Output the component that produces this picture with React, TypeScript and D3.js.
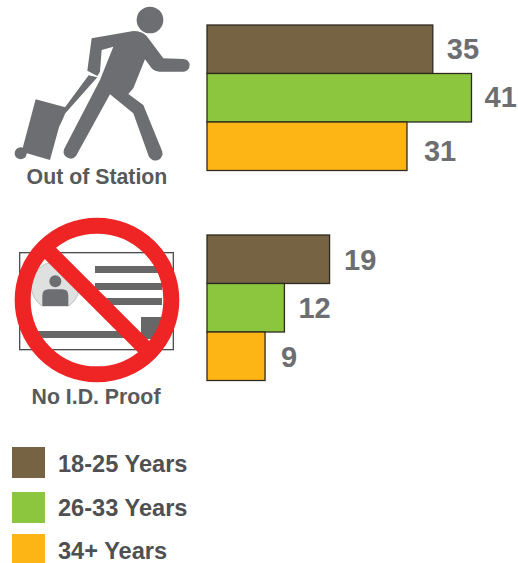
import React from "react";
import * as d3 from "d3";

const ageGroups = ["18-25 Years", "26-33 Years", "34+ Years"];
const colors = ["#756343", "#8cc63f", "#fdb515"];
const outOfStation = [35, 41, 31];
const noIdProof = [19, 12, 9];
const groupLabels = ["Out of Station", "No I.D. Proof"];

const font = "'Liberation Sans', Arial, sans-serif";
const x = d3.scaleLinear().domain([0, 41]).range([207, 471.5]);

function Bars({ values, top, dx, dy }: { values: number[]; top: number; dx: number[]; dy: number[] }) {
  const y = d3.scaleBand<number>().domain([0, 1, 2]).range([top, top + 145.5]).paddingInner(0);
  return (
    <g>
      {values.map((v, i) => (
        <g key={i}>
          <rect
            x={x(0)}
            y={y(i)!}
            width={x(v) - x(0)}
            height={y.bandwidth()}
            fill={colors[i]}
            stroke="#2f2a20"
            strokeWidth={1.3}
          />
          <text
            x={x(v) + dx[i]}
            y={y(i)! + y.bandwidth() / 2 + dy[i]}
            fontFamily={font}
            fontWeight="bold"
            fontSize={29}
            fill="#6d6e71"
          >
            {v}
          </text>
        </g>
      ))}
    </g>
  );
}

function Traveller() {
  const gray = "#6d6e71";
  const body =
    "M275 115 L400 93 Q425 93 440 108 L490 175 L550 177 A19 19 0 0 1 550 215 L478 215 Q465 215 455 205 L435 178 L400 265 L385 282 L430 315 L486 452 A19 19 0 0 1 446 468 L400 340 L330 283 L228 468 A21 21 0 0 1 192 448 L300 240 L340 140 L305 150 L300 215 L292 228 L262 212 Z";
  return (
    <g transform="scale(0.3333)">
      <circle cx={450} cy={60} r={40} fill={gray} />
      <path d={body} fill={gray} />
      <path d="M266 226 L292 232 L196 340 L178 380 L178 345 Z" fill={gray} />
      <path d="M107 298 L196 322 L187 350 L178 378 L150 480 L65 455 Z" fill={gray} />
      <circle cx={62} cy={460} r={18} fill={gray} />
    </g>
  );
}

function IdCard() {
  const dark = "#666766";
  return (
    <g transform="translate(0,205) scale(0.3333)">
      <rect x={59} y={143} width={461} height={291} fill="#fff" stroke="#4d4d4f" strokeWidth={4} />
      <path d="M126 303 A72 72 0 1 1 206 303 Z" fill="#dfe0e0" stroke="#a7a9ac" strokeWidth={2} />
      <circle cx={166} cy={229} r={18} fill="#6d6e71" />
      <path d="M127 303 L127 272 Q127 253 146 253 L186 253 Q205 253 205 272 L205 303 Z" fill="#6d6e71" />
      <rect x={285} y={183} width={190} height={21} fill={dark} />
      <rect x={285} y={234} width={201} height={21} fill={dark} />
      <rect x={300} y={279} width={186} height={21} fill={dark} />
      <rect x={423} y={336} width={60} height={66} fill={dark} />
      <rect x={110} y={378} width={275} height={21} fill={dark} />
      <circle cx={291} cy={285} r={223} fill="none" stroke="#ee2524" strokeWidth={48} />
      <path d="M133 127 L449 443" stroke="#ee2524" strokeWidth={48} fill="none" />
    </g>
  );
}

export default function App() {
  const legendTops = [447, 492, 534];
  const legendHeights = [31, 31, 29];
  const legendBase = [472, 516, 559];
  return (
    <svg
      width={518}
      height={563}
      viewBox="0 0 518 563"
      style={{ position: "absolute", left: 0, top: 0, background: "#fff" }}
    >
      <Traveller />
      <text x={97} y={184} textAnchor="middle" fontFamily={font} fontWeight="bold" fontSize={21.3} fill="#58595b">
        {groupLabels[0]}
      </text>
      <IdCard />
      <text x={96} y={404} textAnchor="middle" fontFamily={font} fontWeight="bold" fontSize={21.3} fill="#58595b">
        {groupLabels[1]}
      </text>
      <Bars values={outOfStation} top={25} dx={[14, 13, 17]} dy={[10, 9, 15]} />
      <Bars values={noIdProof} top={235} dx={[14.5, 14, 16]} dy={[11, 10, 11]} />
      {ageGroups.map((g, i) => (
        <g key={g}>
          <rect x={12} y={legendTops[i]} width={33} height={legendHeights[i]} fill={colors[i]} />
          <text x={58} y={legendBase[i]} fontFamily={font} fontWeight="bold" fontSize={23.6} fill="#4f5052">
            {g}
          </text>
        </g>
      ))}
    </svg>
  );
}
